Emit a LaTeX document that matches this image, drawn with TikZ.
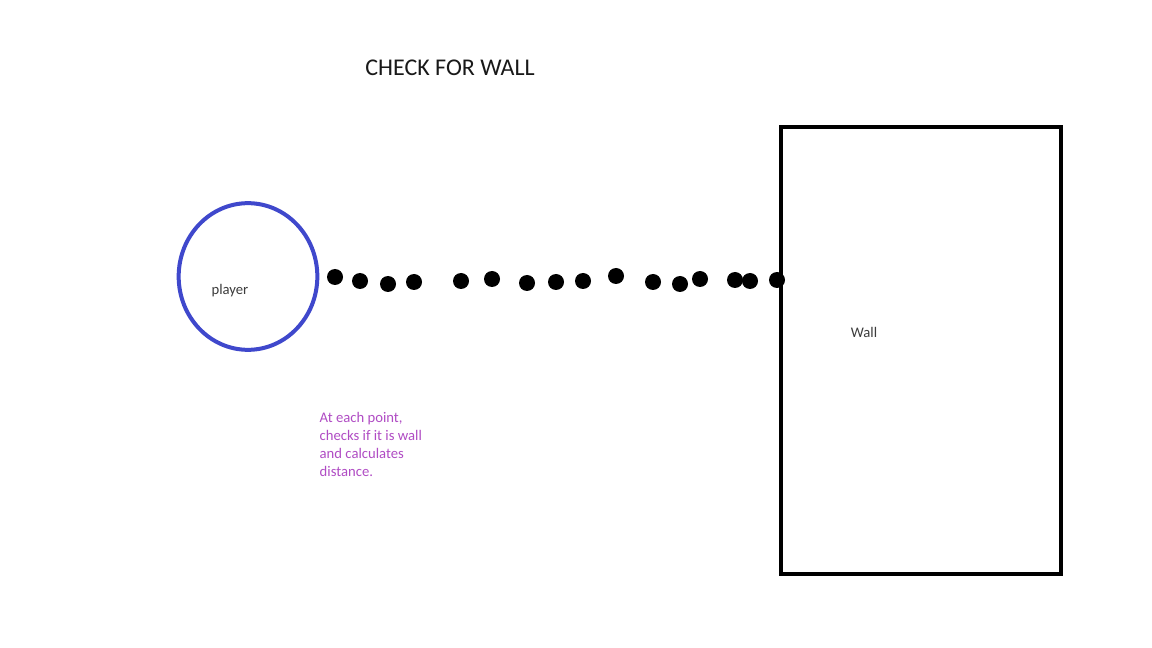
\documentclass[tikz,border=0pt]{standalone}
\usepackage{fontspec}
\setmainfont{Carlito}
\usetikzlibrary{shapes.geometric}
\definecolor{playerblue}{RGB}{63,72,204}
\definecolor{notepurple}{RGB}{176,76,196}
\definecolor{labelgray}{RGB}{60,60,60}

\tikzset{
  dotpt/.style={circle, fill=black, inner sep=0pt, minimum size=12pt},
  smalltext/.style={font=\fontsize{11}{13}\selectfont, text=labelgray}
}

\begin{document}
\begin{tikzpicture}[x=0.75pt, y=-0.75pt]
    \useasboundingbox[fill=white] (0,0) rectangle (1152,648);
    \node[font=\fontsize{18}{21}\selectfont, text=black!90] (title) at (450,68) {CHECK FOR WALL};
    % player
    \node[ellipse, draw=playerblue, line width=3pt, minimum width=104pt, minimum height=110pt] (player) at (248,276.5) {};
    \node[smalltext] (playerlabel) at (230,291) {player};
    % wall
    \node[rectangle, draw=black, line width=3.4pt, minimum width=210pt, minimum height=335pt] (wall) at (921,350.5) {};
    \node[smalltext] (walllabel) at (864,332) {Wall};
    % sample points along the ray
    \foreach \px/\py [count=\i] in {335/277, 360/281, 388/284, 414/282, 461/281, 492/279,
      527/283, 556/282, 583/281, 616/276, 653/282, 680/284, 700/279, 735/280, 750/281, 777/280}
      \node[dotpt] (pt\i) at (\px,\py) {};
    \node[anchor=north west, align=left, text=notepurple,
      font=\fontsize{11}{13.5}\selectfont] (note) at (315,408)
      {At each point,\\ checks if it is wall\\ and calculates\\ distance.};
\end{tikzpicture}
\end{document}
